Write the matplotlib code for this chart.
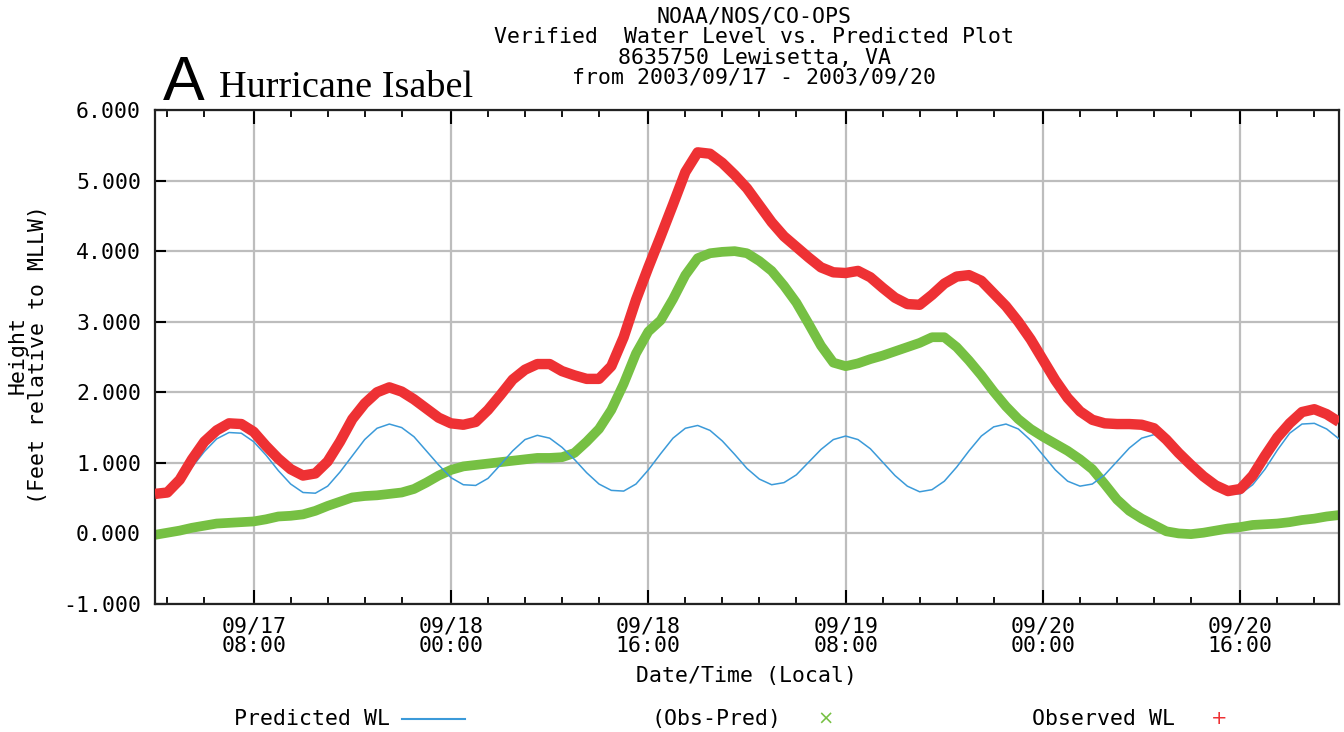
import numpy as np
import matplotlib
matplotlib.use("Agg")
import matplotlib.pyplot as plt
from matplotlib.lines import Line2D

# hours since 2003/09/17 00:00 (local), hourly readings
hours = np.arange(97)

predicted_wl = [0.58, 0.62, 0.75, 0.94, 1.16, 1.34, 1.43, 1.42, 1.30, 1.11,
                0.89, 0.70, 0.58, 0.57, 0.67, 0.87, 1.10, 1.33, 1.49, 1.55,
                1.50, 1.37, 1.17, 0.97, 0.79, 0.69, 0.68, 0.78, 0.97, 1.17,
                1.33, 1.39, 1.35, 1.22, 1.05, 0.86, 0.70, 0.61, 0.60, 0.70,
                0.90, 1.13, 1.35, 1.49, 1.53, 1.46, 1.31, 1.12, 0.92, 0.77,
                0.69, 0.72, 0.83, 1.01, 1.19, 1.33, 1.38, 1.33, 1.20, 1.01,
                0.82, 0.67, 0.59, 0.62, 0.74, 0.94, 1.17, 1.38, 1.51, 1.55,
                1.48, 1.32, 1.11, 0.90, 0.74, 0.67, 0.70, 0.83, 1.02, 1.21,
                1.35, 1.40, 1.35, 1.22, 1.04, 0.84, 0.67, 0.57, 0.56, 0.69,
                0.91, 1.18, 1.42, 1.55, 1.56, 1.48, 1.34]

observed_wl = [0.56, 0.58, 0.76, 1.05, 1.30, 1.46, 1.56, 1.55, 1.44, 1.24,
               1.06, 0.91, 0.82, 0.85, 1.02, 1.30, 1.62, 1.84, 2.00, 2.07,
               2.01, 1.90, 1.77, 1.64, 1.56, 1.54, 1.58, 1.75, 1.96, 2.18,
               2.32, 2.40, 2.40, 2.30, 2.24, 2.19, 2.19, 2.37, 2.78, 3.31,
               3.77, 4.21, 4.66, 5.12, 5.40, 5.38, 5.25, 5.08, 4.89, 4.65,
               4.41, 4.21, 4.06, 3.91, 3.77, 3.70, 3.69, 3.72, 3.63, 3.48,
               3.34, 3.25, 3.24, 3.38, 3.54, 3.64, 3.66, 3.58, 3.40, 3.22,
               3.00, 2.75, 2.46, 2.17, 1.92, 1.73, 1.61, 1.56, 1.55, 1.55,
               1.54, 1.49, 1.33, 1.14, 0.97, 0.81, 0.68, 0.60, 0.63, 0.82,
               1.10, 1.36, 1.56, 1.72, 1.76, 1.69, 1.58]

obs_minus_pred = [-0.02, 0.01, 0.04, 0.08, 0.11, 0.14, 0.15, 0.16, 0.17, 0.20,
                  0.24, 0.25, 0.27, 0.32, 0.39, 0.45, 0.51, 0.53, 0.54, 0.56,
                  0.58, 0.63, 0.72, 0.82, 0.90, 0.95, 0.97, 0.99, 1.01, 1.03,
                  1.05, 1.07, 1.07, 1.08, 1.14, 1.30, 1.48, 1.75, 2.12, 2.55,
                  2.86, 3.02, 3.32, 3.66, 3.90, 3.97, 3.99, 4.00, 3.97, 3.86,
                  3.72, 3.51, 3.27, 2.97, 2.66, 2.42, 2.37, 2.41, 2.47, 2.52,
                  2.58, 2.64, 2.70, 2.78, 2.78, 2.64, 2.45, 2.24, 2.01, 1.80,
                  1.62, 1.48, 1.37, 1.27, 1.17, 1.05, 0.91, 0.70, 0.48, 0.32,
                  0.21, 0.12, 0.03, 0.00, -0.01, 0.01, 0.04, 0.07, 0.09, 0.12,
                  0.13, 0.14, 0.16, 0.19, 0.21, 0.24, 0.26]

tick_hours = [8, 24, 40, 56, 72, 88]
tick_labels = ["09/17\n08:00", "09/18\n00:00", "09/18\n16:00",
               "09/19\n08:00", "09/20\n00:00", "09/20\n16:00"]
title_lines = ["NOAA/NOS/CO-OPS",
               "Verified  Water Level vs. Predicted Plot",
               "8635750 Lewisetta, VA",
               "from 2003/09/17 - 2003/09/20"]

RED = "#ee3134"
GREEN = "#76c043"
BLUE = "#3b9ad9"
MONO = "DejaVu Sans Mono"
FS = 15.5

W, H = 1344, 732
fig = plt.figure(figsize=(W / 100, H / 100), dpi=100)
ax = fig.add_axes([155 / W, 1 - 604 / H, 1184 / W, 494 / H])

ax.plot(hours, obs_minus_pred, color=GREEN, lw=7, solid_capstyle="butt", zorder=2)
ax.plot(hours, predicted_wl, color=BLUE, lw=1.1, zorder=3)
ax.plot(hours, observed_wl, color=RED, lw=7.5, solid_capstyle="butt", zorder=4)

ax.set_xlim(0, 96)
ax.set_ylim(-1, 6)
ax.set_yticks(np.arange(-1, 7))
ax.set_yticklabels([f"{v:.3f}" for v in np.arange(-1, 7)], family=MONO, fontsize=FS)
ax.set_xticks(tick_hours)
ax.set_xticklabels(tick_labels, family=MONO, fontsize=FS, linespacing=1.0)
minor = [t + d for t in [-8] + tick_hours for d in (3, 6, 9, 12) if 0 < t + d < 96]
ax.set_xticks(minor, minor=True)

ax.grid(True, which="major", color="#bdbdbd", lw=1.6, zorder=0)
ax.tick_params(axis="x", which="major", direction="in", length=10, width=1.5,
               top=True, pad=9)
ax.tick_params(axis="x", which="minor", direction="in", length=5, width=1.3, top=True)
ax.tick_params(axis="y", direction="in", length=8, width=1.5, pad=10)
for s in ax.spines.values():
    s.set_linewidth(1.6)
    s.set_color("#222222")

ax.set_xlabel("Date/Time (Local)", family=MONO, fontsize=FS, labelpad=7)
fig.text(28 / W, 1 - 355 / H, "Height\n(Feet relative to MLLW)", rotation=90,
         ha="center", va="center", family=MONO, fontsize=FS, linespacing=1.0,
         multialignment="center")

for i, line in enumerate(title_lines):
    fig.text(754 / W, 1 - (17 + 20.3 * i) / H, line, ha="center", va="center",
             family=MONO, fontsize=FS)

fig.text(163 / W, 1 - 100 / H, "A", family="Liberation Sans", fontsize=45,
         ha="left", va="baseline")
fig.text(219 / W, 1 - 97 / H, "Hurricane Isabel", family="Liberation Serif",
         fontsize=27.5, ha="left", va="baseline")

# legend row
ly = 1 - 719 / H
fig.text(390 / W, ly, "Predicted WL", family=MONO, fontsize=FS, ha="right", va="center")
fig.add_artist(Line2D([402 / W, 465 / W], [ly, ly], color=BLUE, lw=1.5))
fig.text(782 / W, ly, "(Obs-Pred)", family=MONO, fontsize=FS, ha="right", va="center")
fig.text(826 / W, ly, "\u00d7", color=GREEN, fontsize=14, ha="center", va="center")
fig.text(1175 / W, ly, "Observed WL", family=MONO, fontsize=FS, ha="right", va="center")
fig.text(1219 / W, ly, "+", color=RED, fontsize=14, ha="center", va="center")

fig.savefig("out.png", dpi=100)
